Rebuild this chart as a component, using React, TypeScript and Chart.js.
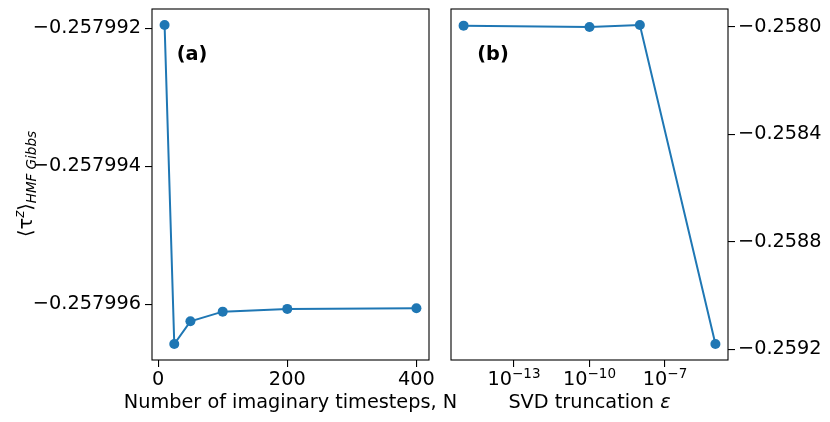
import React, { useEffect, useRef } from 'react';
import { Chart, registerables } from 'chart.js';

Chart.register(...registerables);

// ---- data ----
const timesteps = [10, 25, 50, 100, 200, 400];
const tauTimesteps = [-0.25799195, -0.25799658, -0.25799625, -0.25799611, -0.25799607, -0.25799606];
const leftXTicks = [0, 200, 400];
const leftYTicks = [-0.257992, -0.257994, -0.257996];

const svdEps = [1e-15, 1e-10, 1e-8, 1e-5];
const tauSvd = [-0.2579951, -0.258, -0.2579925, -0.2591813];
const rightXTicks = [1e-13, 1e-10, 1e-7];
const rightXTickExponents = ['−13', '−10', '−7'];
const rightYTicks = [-0.258, -0.2584, -0.2588, -0.2592];

const xTitleLeft = 'Number of imaginary timesteps, N';
const xTitleRightMain = 'SVD truncation ';
const xTitleRightSymbol = 'ε';
const panelLabels = ['(a)', '(b)'];

// ---- style ----
const FONT = "'DejaVu Sans', 'Liberation Sans', sans-serif";
const BLUE = '#1f77b4';
const FS = 19.3;
const FS_SMALL = 13.5;

const W = 830;
const H = 422;

function margins(vals: number[]) {
  const lo = Math.min(...vals);
  const hi = Math.max(...vals);
  const m = (hi - lo) * 0.05;
  return { min: lo - m, max: hi + m };
}

function logMargins(vals: number[]) {
  const l = vals.map((v) => Math.log10(v));
  const r = margins(l);
  return { min: Math.pow(10, r.min), max: Math.pow(10, r.max) };
}

const minus = (v: number, d: number) => (v < 0 ? '−' : '') + Math.abs(v).toFixed(d);

function drawBox(chart: any) {
  const { ctx, chartArea: a } = chart;
  ctx.save();
  ctx.strokeStyle = '#000';
  ctx.lineWidth = 1.1;
  ctx.strokeRect(a.left, a.top, a.right - a.left, a.bottom - a.top);
  ctx.restore();
}

function drawCenteredParts(ctx: CanvasRenderingContext2D, parts: { t: string; font: string; dy: number }[], cx: number, baseline: number) {
  let total = 0;
  const widths = parts.map((p) => {
    ctx.font = p.font;
    const w = ctx.measureText(p.t).width;
    total += w;
    return w;
  });
  let x = cx - total / 2;
  parts.forEach((p, i) => {
    ctx.font = p.font;
    ctx.fillText(p.t, x, baseline + p.dy);
    x += widths[i];
  });
}

const leftPlugin = {
  id: 'leftDecor',
  afterDatasetsDraw(chart: any) {
    drawBox(chart);
  },
  afterDraw(chart: any) {
    const { ctx, chartArea: a } = chart;
    ctx.save();
    ctx.fillStyle = '#000';
    ctx.textAlign = 'left';
    ctx.textBaseline = 'alphabetic';
    // x title
    drawCenteredParts(ctx, [{ t: xTitleLeft, font: `${FS}px ${FONT}`, dy: 0 }], (a.left + a.right) / 2, 408);
    // panel label
    ctx.font = `bold ${FS}px ${FONT}`;
    ctx.textAlign = 'center';
    ctx.textBaseline = 'middle';
    ctx.fillText(panelLabels[0], a.left + 40, 54.5);
    // y title (rotated)
    ctx.textAlign = 'left';
    ctx.textBaseline = 'alphabetic';
    ctx.translate(32, 184);
    ctx.rotate(-Math.PI / 2);
    drawCenteredParts(
      ctx,
      [
        { t: '⟨τ', font: `${FS}px ${FONT}`, dy: 0 },
        { t: 'z', font: `italic ${FS_SMALL}px ${FONT}`, dy: -8.5 },
        { t: '⟩', font: `${FS}px ${FONT}`, dy: 0 },
        { t: 'HMF Gibbs', font: `italic ${FS_SMALL}px ${FONT}`, dy: 4 },
      ],
      0,
      0
    );
    ctx.restore();
  },
};

const rightPlugin = {
  id: 'rightDecor',
  afterDatasetsDraw(chart: any) {
    drawBox(chart);
  },
  afterDraw(chart: any) {
    const { ctx, chartArea: a } = chart;
    const xs = chart.scales.x;
    ctx.save();
    ctx.fillStyle = '#000';
    ctx.textAlign = 'left';
    ctx.textBaseline = 'alphabetic';
    // x tick labels 10^{n}
    rightXTicks.forEach((v, i) => {
      const px = xs.getPixelForValue(v);
      drawCenteredParts(
        ctx,
        [
          { t: '10', font: `${FS}px ${FONT}`, dy: 0 },
          { t: rightXTickExponents[i], font: `${FS_SMALL}px ${FONT}`, dy: -7.5 },
        ],
        px,
        385
      );
    });
    // x title
    drawCenteredParts(
      ctx,
      [
        { t: xTitleRightMain, font: `${FS}px ${FONT}`, dy: 0 },
        { t: xTitleRightSymbol, font: `italic ${FS}px ${FONT}`, dy: 0 },
      ],
      (a.left + a.right) / 2,
      408
    );
    // panel label
    ctx.font = `bold ${FS}px ${FONT}`;
    ctx.textAlign = 'center';
    ctx.textBaseline = 'middle';
    ctx.fillText(panelLabels[1], a.left + 42, 54.5);
    ctx.restore();
  },
};

const gridOpts = {
  drawOnChartArea: false,
  drawTicks: true,
  tickLength: 7,
  color: '#000',
  lineWidth: 1.1,
};

const tickFont = { family: FONT, size: FS };

export default function App() {
  const leftRef = useRef<HTMLCanvasElement>(null);
  const rightRef = useRef<HTMLCanvasElement>(null);

  useEffect(() => {
    const lx = margins(timesteps);
    const ly = margins(tauTimesteps);
    const rx = logMargins(svdEps);
    const ry = margins(tauSvd);

    const dsStyle = {
      borderColor: BLUE,
      backgroundColor: BLUE,
      pointBackgroundColor: BLUE,
      pointBorderWidth: 0,
      pointRadius: 5,
      borderWidth: 2,
      tension: 0,
      clip: false as any,
    };

    const left = new Chart(leftRef.current as HTMLCanvasElement, {
      type: 'line',
      data: {
        datasets: [{ data: timesteps.map((x, i) => ({ x, y: tauTimesteps[i] })), ...dsStyle }],
      },
      options: {
        responsive: false,
        animation: false,
        devicePixelRatio: 1,
        layout: { padding: { left: 0, right: W - 429, top: 9, bottom: 0 } },
        plugins: { legend: { display: false }, tooltip: { enabled: false } },
        scales: {
          x: {
            type: 'linear',
            min: lx.min,
            max: lx.max,
            afterFit: (s: any) => {
              s.height = H - 360;
              s.paddingLeft = 0;
              s.paddingRight = 0;
            },
            afterBuildTicks: (s: any) => {
              s.ticks = leftXTicks.map((v) => ({ value: v }));
            },
            grid: gridOpts,
            border: { display: false },
            ticks: {
              font: tickFont,
              color: '#000',
              padding: 1,
              maxRotation: 0,
              autoSkip: false,
              callback: (v: any) => String(v),
            },
          },
          y: {
            type: 'linear',
            min: ly.min,
            max: ly.max,
            afterFit: (s: any) => {
              s.width = 152;
              s.paddingTop = 0;
              s.paddingBottom = 0;
            },
            afterBuildTicks: (s: any) => {
              s.ticks = leftYTicks.map((v) => ({ value: v }));
            },
            grid: gridOpts,
            border: { display: false },
            ticks: {
              font: tickFont,
              color: '#000',
              padding: 4,
              autoSkip: false,
              callback: (v: any) => minus(Number(v), 6),
            },
          },
        },
      } as any,
      plugins: [leftPlugin],
    });

    const right = new Chart(rightRef.current as HTMLCanvasElement, {
      type: 'line',
      data: {
        datasets: [{ data: svdEps.map((x, i) => ({ x, y: tauSvd[i] })), ...dsStyle }],
      },
      options: {
        responsive: false,
        animation: false,
        devicePixelRatio: 1,
        layout: { padding: { left: 451, right: 0, top: 9, bottom: 0 } },
        plugins: { legend: { display: false }, tooltip: { enabled: false } },
        scales: {
          x: {
            type: 'logarithmic',
            min: rx.min,
            max: rx.max,
            afterFit: (s: any) => {
              s.height = H - 360;
              s.paddingLeft = 0;
              s.paddingRight = 0;
            },
            afterBuildTicks: (s: any) => {
              s.ticks = rightXTicks.map((v) => ({ value: v }));
            },
            grid: gridOpts,
            border: { display: false },
            ticks: {
              font: tickFont,
              color: '#000',
              padding: 0,
              maxRotation: 0,
              autoSkip: false,
              callback: () => '',
            },
          },
          y: {
            type: 'linear',
            position: 'right',
            min: ry.min,
            max: ry.max,
            afterFit: (s: any) => {
              s.width = W - 728;
              s.paddingTop = 0;
              s.paddingBottom = 0;
            },
            afterBuildTicks: (s: any) => {
              s.ticks = rightYTicks.map((v) => ({ value: v }));
            },
            grid: gridOpts,
            border: { display: false },
            ticks: {
              font: tickFont,
              color: '#000',
              padding: 3,
              autoSkip: false,
              callback: (v: any) => minus(Number(v), 4),
            },
          },
        },
      } as any,
      plugins: [rightPlugin],
    });

    return () => {
      left.destroy();
      right.destroy();
    };
  }, []);

  const canvasStyle: React.CSSProperties = { position: 'absolute', left: 0, top: 0, width: W, height: H };
  return (
    <div style={{ position: 'fixed', left: 0, top: 0, width: W, height: H, background: '#fff' }}>
      <canvas ref={leftRef} width={W} height={H} style={canvasStyle} />
      <canvas ref={rightRef} width={W} height={H} style={canvasStyle} />
    </div>
  );
}
